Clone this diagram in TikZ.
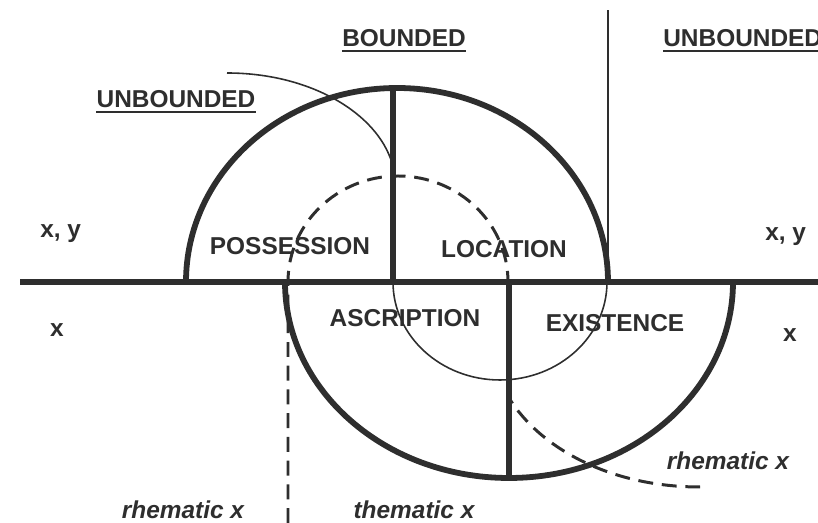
\documentclass[tikz,border=0pt]{standalone}
\usepackage{fontspec}
\setmainfont{Liberation Sans}
\definecolor{ink}{HTML}{2E2E2E}

\tikzset{
  heavy/.style={ink, line width=3.3pt},
  light/.style={ink, line width=0.9pt},
  dashy/.style={ink, line width=1.7pt, dash pattern=on 8.5pt off 5pt},
  lab/.style={font=\fontsize{13.9pt}{16pt}\selectfont\bfseries, text=ink, inner sep=0pt, anchor=base},
  ilab/.style={lab, font=\fontsize{13.9pt}{16pt}\selectfont\bfseries\itshape},
  uline/.style={ink, line width=1pt}
}

\begin{document}
\begin{tikzpicture}[x=0.02cm, y=0.02cm]
\useasboundingbox (0,0) rectangle (818,523);

% headings
\path (404,476) node[lab] (bnd) {BOUNDED};
\path (176,415) node[lab] (unbl) {UNBOUNDED};
\path (663,476) node[lab, anchor=base west] (unbr) {UNBOUNDED};
\draw[uline] ([yshift=-1.8pt]bnd.south west) -- ([yshift=-1.8pt]bnd.south east);
\draw[uline] ([yshift=-1.8pt]unbl.south west) -- ([yshift=-1.8pt]unbl.south east);
\draw[uline] ([yshift=-1.8pt]unbr.south west) -- ([yshift=-1.8pt]unbr.south east);

% arguments at the sides
\path (40,285) node[lab, anchor=base west] (xyl) {x, y};
\path (765,282) node[lab, anchor=base west] (xyr) {x, y};
\path (57,186) node[lab] (xl) {x};
\path (790,181) node[lab] (xr) {x};

% the four fields
\path (290,268) node[lab] (poss) {POSSESSION};
\path (504,265) node[lab] (loc) {LOCATION};
\path (405,196) node[lab] (ascr) {ASCRIPTION};
\path (615,191) node[lab] (exis) {EXISTENCE};

% thematic / rhematic
\path (183,4) node[ilab] (rhl) {rhematic x};
\path (414,4) node[ilab] (thm) {thematic x};
\path (728,53) node[ilab] (rhr) {rhematic x};

% base line and the two half ellipses
\draw[heavy] (20,241) -- (818,241);
\draw[heavy] (186,241) arc[start angle=180, end angle=0, x radius=211, y radius=194];
\draw[heavy] (393,241) -- (393,435);
\draw[heavy] (285,241) arc[start angle=180, end angle=360, x radius=224, y radius=196];
\draw[heavy] (509,241) -- (509,45);

% thin lines
\draw[light] (608,241) -- (608,513);
\draw[light] (227,450) .. controls (310,450) and (377,410) .. (392,360)
   -- (393,241) arc[start angle=180, end angle=360, x radius=107, y radius=98];

% dashed lines
\draw[dashy] (288,0) -- (288,241) arc[start angle=180, end angle=0, x radius=110, y radius=106]
   -- (509,125) .. controls (540,75) and (610,36) .. (700,36);
\end{tikzpicture}
\end{document}
